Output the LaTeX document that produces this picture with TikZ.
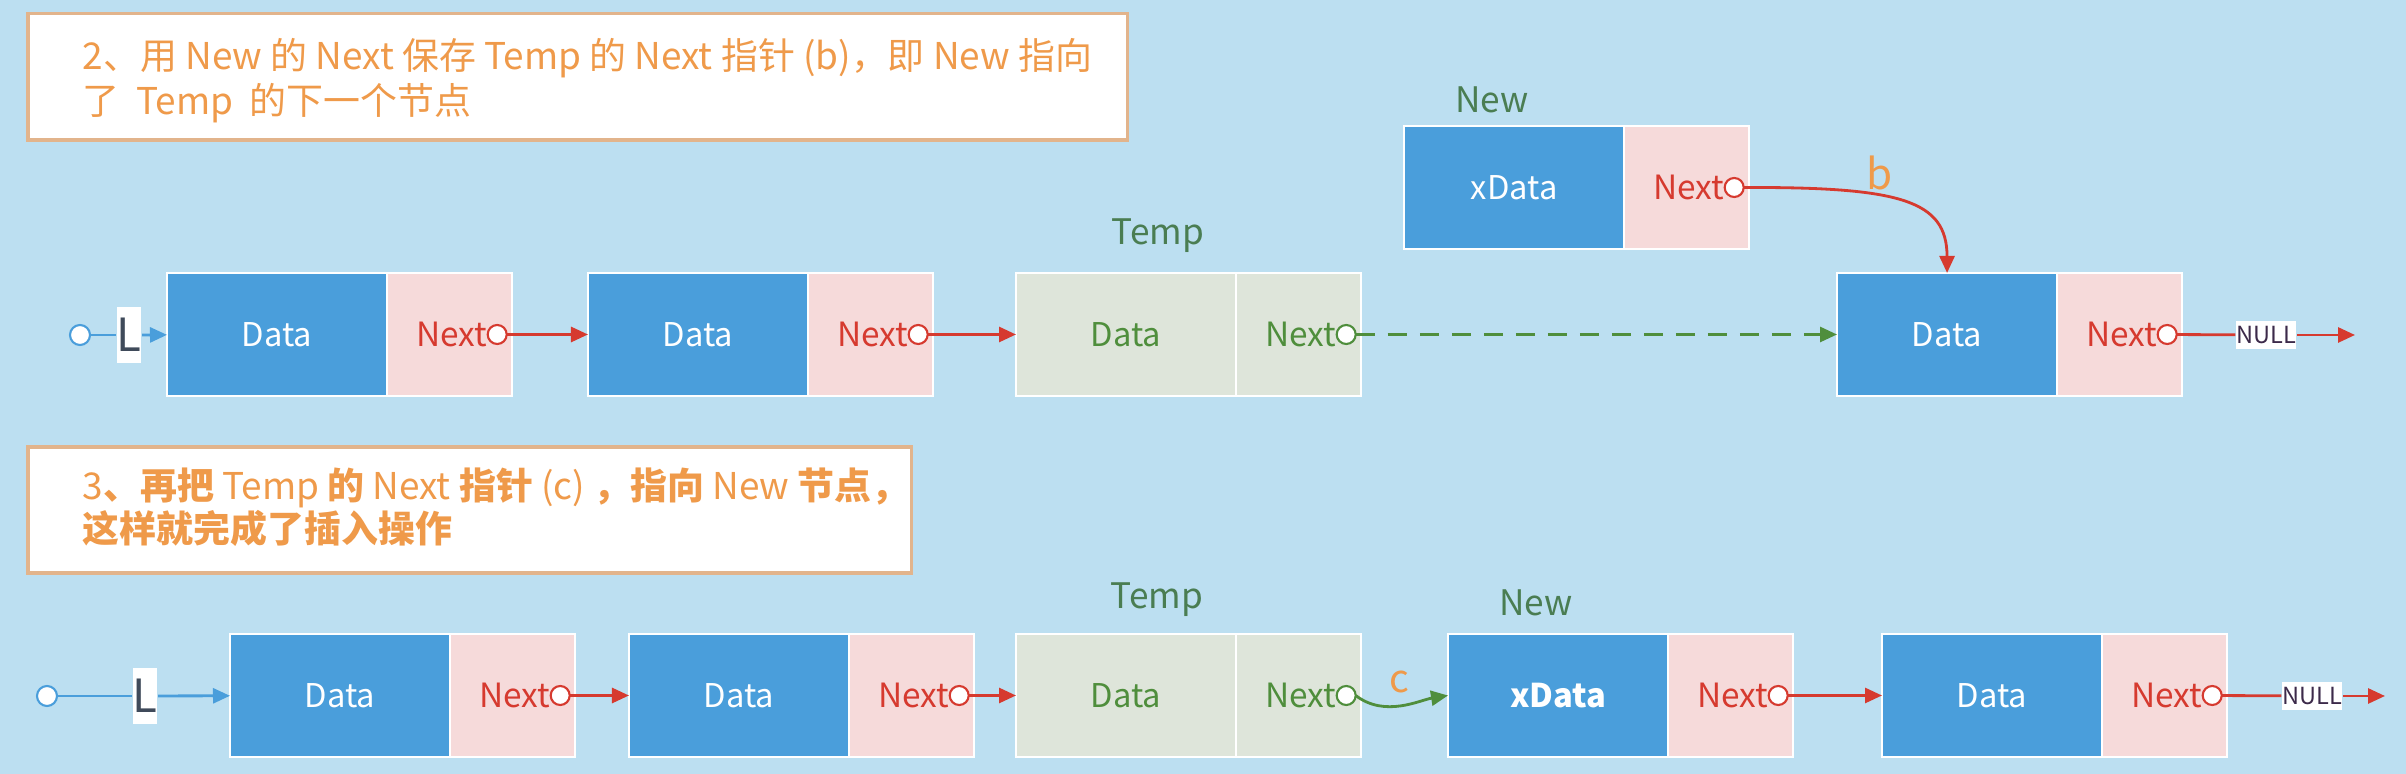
\documentclass[tikz,border=0pt]{standalone}
\usepackage{fontspec}
\setmainfont{Noto Sans CJK SC}
\usetikzlibrary{arrows.meta}
\definecolor{bgc}{HTML}{BCDFF1}
\definecolor{dblue}{HTML}{4A9EDB}
\definecolor{npink}{HTML}{F6DADA}
\definecolor{tgray}{HTML}{DEE5DA}
\definecolor{nred}{HTML}{D63A2F}
\definecolor{tgreen}{HTML}{4F8E3C}
\definecolor{lgreen}{HTML}{4A7D52}
\definecolor{orng}{HTML}{EF9A4A}
\definecolor{bord}{HTML}{E2B48C}
\definecolor{nullc}{HTML}{3C2A4A}
\definecolor{lcol}{HTML}{3F4A5A}
\newcommand\fs[1]{\fontsize{#1}{#1}\selectfont}
\tikzset{
  cell/.style={draw=white, line width=0.6pt, minimum height=1.23cm, inner sep=0pt, outer sep=0pt, anchor=west},
  datab/.style={cell, fill=dblue, minimum width=2.2cm, text=white, font=\fs{9.3}},
  datax/.style={datab, font=\fs{9.3}\bfseries},
  tempd/.style={cell, fill=tgray, minimum width=2.2cm, text=tgreen, font=\fs{9.3}},
  nextb/.style={cell, fill=npink, minimum width=1.25cm},
  tempn/.style={cell, fill=tgray, minimum width=1.25cm},
  ptr/.style={circle, draw=#1, fill=white, line width=0.6pt, minimum size=0.19cm, inner sep=0pt, outer sep=0pt},
  nexttxt/.style={text=#1, font=\fs{9.5}, inner sep=0pt, anchor=east},
  redarr/.style={draw=nred, line width=0.8pt, -{Triangle[length=0.17cm,width=0.15cm]}},
  redline/.style={draw=nred, line width=0.8pt},
  greenarr/.style={draw=tgreen, line width=0.8pt, -{Triangle[length=0.17cm,width=0.15cm]}},
  bluearr/.style={draw=dblue, line width=0.8pt, -{Triangle[length=0.17cm,width=0.15cm]}},
  blueline/.style={draw=dblue, line width=0.8pt},
  lbox/.style={fill=white, minimum width=0.21cm, minimum height=0.55cm, inner sep=0pt, text=lcol, font=\fs{13}},
  nullb/.style={fill=white, minimum width=0.6cm, minimum height=0.28cm, inner sep=0pt, text=nullc, font=\fs{6.7}},
  tbox/.style={fill=white, draw=bord, line width=1pt, anchor=north west, minimum height=1.26cm, inner sep=0pt},
  ttxt/.style={anchor=base west, inner sep=0pt, text=orng, font=\fs{10.5}},
  lbl/.style={text=lgreen, font=\fs{10}, inner sep=0pt},
  ltr/.style={text=orng, inner sep=0pt},
}
\newcommand\lnode[7]{%
  \node[#5] (#1d) at (#2,#3) {#4};
  \node[#6] (#1n) at (#1d.east) {};
  \node[ptr=#7] (#1c) at ([xshift=-0.15cm]#1n.east) {};
  \node[nexttxt=#7] (#1t) at (#1c.west) {Next};
}
\begin{document}
\begin{tikzpicture}[x=0.01cm, y=-0.01cm]
\fill[bgc] (0,0) rectangle (2406,774);
\useasboundingbox (0,0) rectangle (2406,774);

% ---------- top text box ----------
\node[tbox, minimum width=10.99cm] (T1) at (26,12) {};
\node[ttxt] (T1a) at (82,70) {2、用 New 的 Next 保存 Temp 的 Next 指针 (b)，即 New 指向};
\node[ttxt] (T1b) at (82,115) {了~~Temp~~的下一个节点};

% ---------- top row ----------
\lnode{a1}{167}{334.5}{Data}{datab}{nextb}{nred}
\lnode{a2}{588}{334.5}{Data}{datab}{nextb}{nred}
\lnode{a3}{1016}{334.5}{Data}{tempd}{tempn}{tgreen}
\lnode{a4}{1837}{334.5}{Data}{datab}{nextb}{nred}
\lnode{na}{1404}{187.5}{xData}{datab}{nextb}{nred}

\node[lbl] (tmp1) at (1158,236) {Temp};
\node[lbl] (new1) at (1492,100) {New};
\node[ltr, font=\fs{12}] (lb) at (1880,173) {b};

\node[ptr=dblue, minimum size=0.2cm] (s1) at (80,335) {};
\node[lbox] (L1) at (129,335) {L};
\draw[blueline] (s1) -- (L1);
\draw[bluearr] (L1) -- (a1d);

\draw[redarr] (a1c) -- (a2d);
\draw[redarr] (a2c) -- (a3d);
\draw[greenarr, dash pattern=on 0.19cm off 0.13cm] (a3c) -- (a4d);
\draw[redarr] (nac.east) .. controls (1900,187) and (1947,200) .. (a4d.north);

\node[nullb] (N1) at (2266,335) {NULL};
\coordinate (e1) at (2355,335);
\draw[redline] (a4c) -- (N1);
\draw[redarr] (N1) -- (e1);

% ---------- bottom text box ----------
\node[tbox, minimum width=8.83cm] (T2) at (26,445) {};
\node[ttxt] (T2a) at (82,500) {3\textbf{、再把} Temp \textbf{的} Next \textbf{指针} (c) \textbf{，指向} New \textbf{节点，}};
\node[ttxt] (T2b) at (82,543) {\textbf{这样就完成了插入操作}};

% ---------- bottom row ----------
\lnode{b1}{230}{695.5}{Data}{datab}{nextb}{nred}
\lnode{b2}{629}{695.5}{Data}{datab}{nextb}{nred}
\lnode{b3}{1016}{695.5}{Data}{tempd}{tempn}{tgreen}
\lnode{nb}{1448}{695.5}{xData}{datax}{nextb}{nred}
\lnode{b5}{1882}{695.5}{Data}{datab}{nextb}{nred}

\node[lbl] (tmp2) at (1157,600) {Temp};
\node[lbl] (new2) at (1536,603) {New};
\node[ltr, font=\fs{11}] (lc) at (1399,682) {c};

\node[ptr=dblue, minimum size=0.2cm] (s2) at (47,696) {};
\node[lbox] (L2) at (145,696) {L};
\draw[blueline] (s2) -- (L2);
\draw[bluearr] (L2) -- (b1d);

\draw[redarr] (b1c) -- (b2d);
\draw[redarr] (b2c) -- (b3d);
\draw[greenarr] (b3c.east) .. controls (1385,718) and (1420,700) .. (nbd.west);
\draw[redarr] (nbc) -- (b5d);

\node[nullb] (N2) at (2312,696) {NULL};
\coordinate (e2) at (2385,696);
\draw[redline] (b5c) -- (N2);
\draw[redarr] (N2) -- (e2);
\end{tikzpicture}
\end{document}
